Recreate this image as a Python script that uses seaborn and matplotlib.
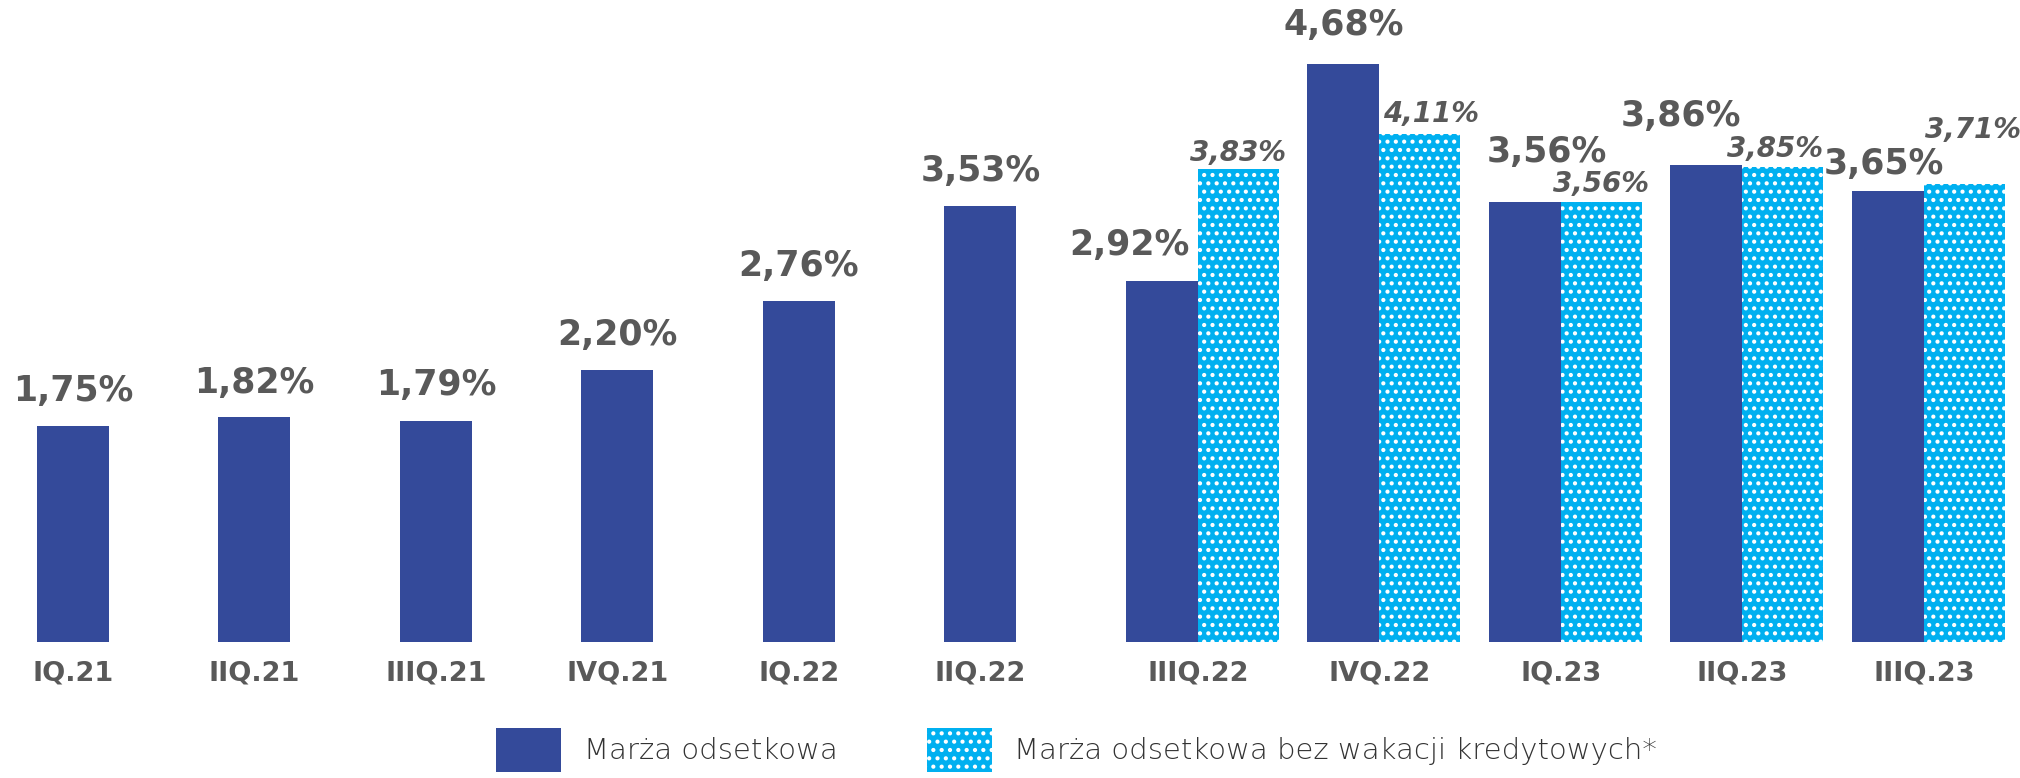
import numpy as np
import pandas as pd
import seaborn as sns
import matplotlib.pyplot as plt
from matplotlib.patches import Patch

# ---------------- data ----------------
categories = ["IQ.21", "IIQ.21", "IIIQ.21", "IVQ.21", "IQ.22", "IIQ.22",
              "IIIQ.22", "IVQ.22", "IQ.23", "IIQ.23", "IIIQ.23"]
margin = [1.75, 1.82, 1.79, 2.20, 2.76, 3.53, 2.92, 4.68, 3.56, 3.86, 3.65]
margin_no_holidays = [np.nan] * 6 + [3.83, 4.11, 3.56, 3.85, 3.71]
series_names = ["Marża odsetkowa", "Marża odsetkowa bez wakacji kredytowych*"]

# ---------------- style ----------------
DARK = "#344A9A"
LIGHT = "#00B0F0"
TEXT = "#595959"
# label nudges in pixels (style only)
dark_dx = [0, 0, 0, 0, 0, 0, -33, 0, 22, -26, -4]
dark_dy = [35, 34, 36, 35, 35, 35, 36, 39, 50, 49, 27]
light_dx = [0, 11, 0, -8, 9]
light_dy = [16, 20, 18, 18, 54]

sns.set_theme(style="white")
plt.rcParams["font.family"] = ["DejaVu Sans"]
plt.rcParams["hatch.linewidth"] = 1.8

W, H = 2020, 778
fig = plt.figure(figsize=(W / 100, H / 100), dpi=100)
base = 642
ax = fig.add_axes([0, 1 - base / H, 1, base / H])

df = pd.DataFrame({
    "Kwartał": categories * 2,
    "Seria": [series_names[0]] * len(categories) + [series_names[1]] * len(categories),
    "Wartość": margin + margin_no_holidays,
})
sns.barplot(data=df, x="Kwartał", y="Wartość", hue="Seria",
            order=categories, hue_order=series_names,
            palette=[DARK, LIGHT], dodge=True, width=0.84, saturation=1,
            legend=False, ax=ax)

px = 181.5  # pixels per category
dark_w = 72 / px
light_w = 81 / px

dark_bars = sorted(ax.containers[0].patches, key=lambda p: p.get_x())
light_bars = [p for p in sorted(ax.containers[1].patches, key=lambda p: p.get_x())
              if np.isfinite(p.get_height()) and p.get_height() > 0]

for p in dark_bars:
    right = p.get_x() + p.get_width()
    p.set_width(dark_w)
    p.set_x(right - dark_w)
    p.set_linewidth(0)
for p in light_bars:
    p.set_width(light_w)
    p.set_linewidth(0)
    p.set_edgecolor("white")
    p.set_hatch("..")

ax.set_xlim(-0.60, (W - 109) / px)
ax.set_ylim(0, base / 123.5)

def fmt(v):
    return f"{v:.2f}".replace(".", ",") + "%"

pt = 0.72
for p, v, dx, dy in zip(dark_bars, margin, dark_dx, dark_dy):
    ax.annotate(fmt(v), (p.get_x() + p.get_width() / 2, p.get_height()),
                xytext=(dx * pt, dy * pt), textcoords="offset points",
                ha="center", va="center", fontsize=25, fontweight="bold",
                color=TEXT)
for p, dx, dy in zip(light_bars, light_dx, light_dy):
    v = p.get_height()
    ax.annotate(fmt(v), (p.get_x() + p.get_width() / 2, v),
                xytext=(dx * pt, dy * pt), textcoords="offset points",
                ha="center", va="center", fontsize=20, fontweight="bold",
                fontstyle="italic", color=TEXT)

dark_centers = [p.get_x() + p.get_width() / 2 for p in dark_bars]
tick_pos = [dc if np.isnan(m2) else i
            for i, (dc, m2) in enumerate(zip(dark_centers, margin_no_holidays))]
ax.set_xticks(tick_pos)
ax.set_xticklabels(categories, fontsize=19.5, fontweight="bold", color=TEXT)
ax.tick_params(axis="x", length=0, pad=13)
ax.set_yticks([])
ax.set_xlabel("")
ax.set_ylabel("")
for s in ax.spines.values():
    s.set_visible(False)

handles = [Patch(facecolor=DARK, linewidth=0),
           Patch(facecolor=LIGHT, edgecolor="white", linewidth=0, hatch="..")]
fig.legend(handles, series_names, loc="center", bbox_to_anchor=(0.533, 0.036),
           ncol=2, frameon=False, prop={"size": 21, "weight": "light"},
           handlelength=2.24, handleheight=1.97, handletextpad=0.76,
           columnspacing=3.07, borderpad=0, labelcolor="#333333")

fig.savefig("out.png", dpi=100)
